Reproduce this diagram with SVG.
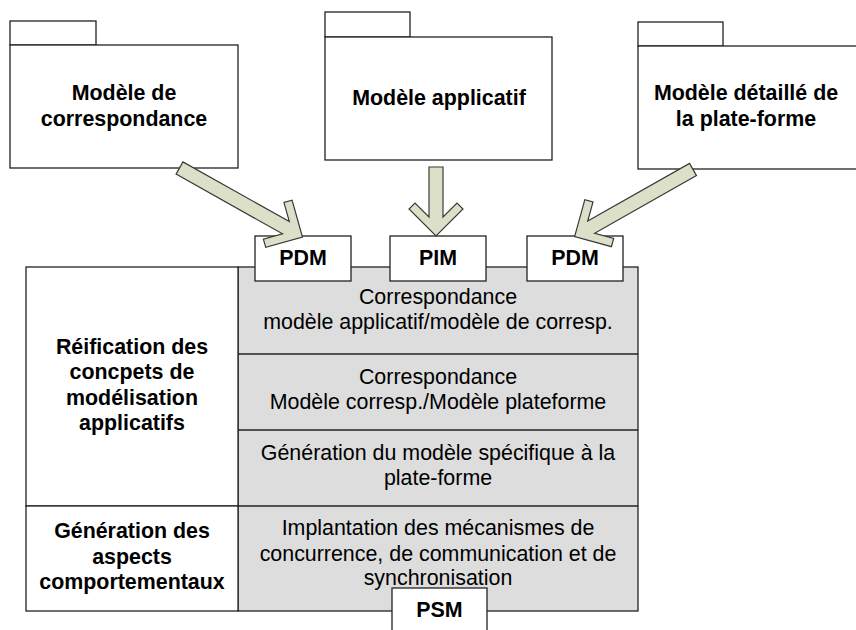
<svg xmlns="http://www.w3.org/2000/svg" width="856" height="630" viewBox="0 0 856 630">
<style>
.pk{fill:#fff;stroke:#222;stroke-width:1.3}
.cell{fill:#fff;stroke:#222;stroke-width:1.3}
.g{fill:#dddddd;stroke:#222;stroke-width:1.3}
.bx{fill:#fff;stroke:#222;stroke-width:1.3}
.b{font-family:"Liberation Sans",Arial,sans-serif;font-weight:bold;font-size:21.4px;fill:#000;text-anchor:middle}
.r{font-family:"Liberation Sans",Arial,sans-serif;font-size:21.4px;fill:#000;text-anchor:middle}
.ar{fill:#dde0c9;stroke:#3a3a3a;stroke-width:1.2;stroke-linejoin:miter}
</style>
<rect width="856" height="630" fill="#fff"/>
<g id="pkg-correspondance">
<rect class="pk" x="10" y="21" width="86" height="24"/>
<rect class="pk" x="10" y="45" width="228" height="123"/>
<text class="b" x="124" y="100">Modèle de</text>
<text class="b" x="124" y="126">correspondance</text>
</g>
<g id="pkg-applicatif">
<rect class="pk" x="325" y="12" width="85" height="25"/>
<rect class="pk" x="325" y="37" width="227" height="123"/>
<text class="b" x="439" y="105">Modèle applicatif</text>
</g>
<g id="pkg-plateforme">
<rect class="pk" x="638" y="22" width="85" height="24"/>
<rect class="pk" x="638" y="46" width="230" height="123"/>
<text class="b" x="746" y="100">Modèle détaillé de</text>
<text class="b" x="746" y="126">la plate-forme</text>
</g>
<g id="table">
<rect class="g" x="238" y="267" width="400" height="344"/>
<line x1="238" y1="354" x2="638" y2="354" stroke="#222" stroke-width="1.3"/>
<line x1="238" y1="430" x2="638" y2="430" stroke="#222" stroke-width="1.3"/>
<line x1="238" y1="506" x2="638" y2="506" stroke="#222" stroke-width="1.3"/>
<rect class="cell" x="26" y="267" width="212" height="239"/>
<rect class="cell" x="26" y="506" width="212" height="105"/>
</g>
<g id="cell-reification">
<text class="b" x="132" y="354">Réification des</text>
<text class="b" x="132" y="379">concpets de</text>
<text class="b" x="132" y="405">modélisation</text>
<text class="b" x="132" y="430">applicatifs</text>
</g>
<g id="cell-generation">
<text class="b" x="132" y="538">Génération des</text>
<text class="b" x="132" y="564">aspects</text>
<text class="b" x="132" y="589">comportementaux</text>
</g>
<g id="step1">
<text class="r" x="438" y="304">Correspondance</text>
<text class="r" x="438" y="329">modèle applicatif/modèle de corresp.</text>
</g>
<g id="step2">
<text class="r" x="438" y="384">Correspondance</text>
<text class="r" x="438" y="409">Modèle corresp./Modèle plateforme</text>
</g>
<g id="step3">
<text class="r" x="438" y="460">Génération du modèle spécifique à la</text>
<text class="r" x="438" y="485">plate-forme</text>
</g>
<g id="step4">
<text class="r" x="438" y="535">Implantation des mécanismes de</text>
<text class="r" x="438" y="561">concurrence, de communication et de</text>
<text class="r" x="438" y="585">synchronisation</text>
</g>
<g id="pdm1">
<rect class="bx" x="255" y="236" width="96" height="45"/>
<text class="b" x="303" y="265">PDM</text>
</g>
<g id="pim">
<rect class="bx" x="390" y="236" width="96" height="45"/>
<text class="b" x="438" y="265">PIM</text>
</g>
<g id="pdm2">
<rect class="bx" x="527" y="236" width="96" height="45"/>
<text class="b" x="575" y="265">PDM</text>
</g>
<g id="psm">
<rect class="bx" x="392" y="588" width="95" height="50"/>
<text class="b" x="439.5" y="617">PSM</text>
</g>
<g id="connectors">
<polygon class="ar" transform="translate(179.5,168) rotate(-60.7)" points="-7,0 7,0 7,122 21,108 27,114 0,141 -27,114 -21,108 -7,122"/>
<polygon class="ar" transform="translate(436,167)" points="-7,0 7,0 7,50 21,36 27,42 0,69 -27,42 -21,36 -7,50"/>
<polygon class="ar" transform="translate(693,169.5) rotate(60.5)" points="-7,0 7,0 7,117 21,103 27,109 0,136 -27,109 -21,103 -7,117"/>
</g>
</svg>
